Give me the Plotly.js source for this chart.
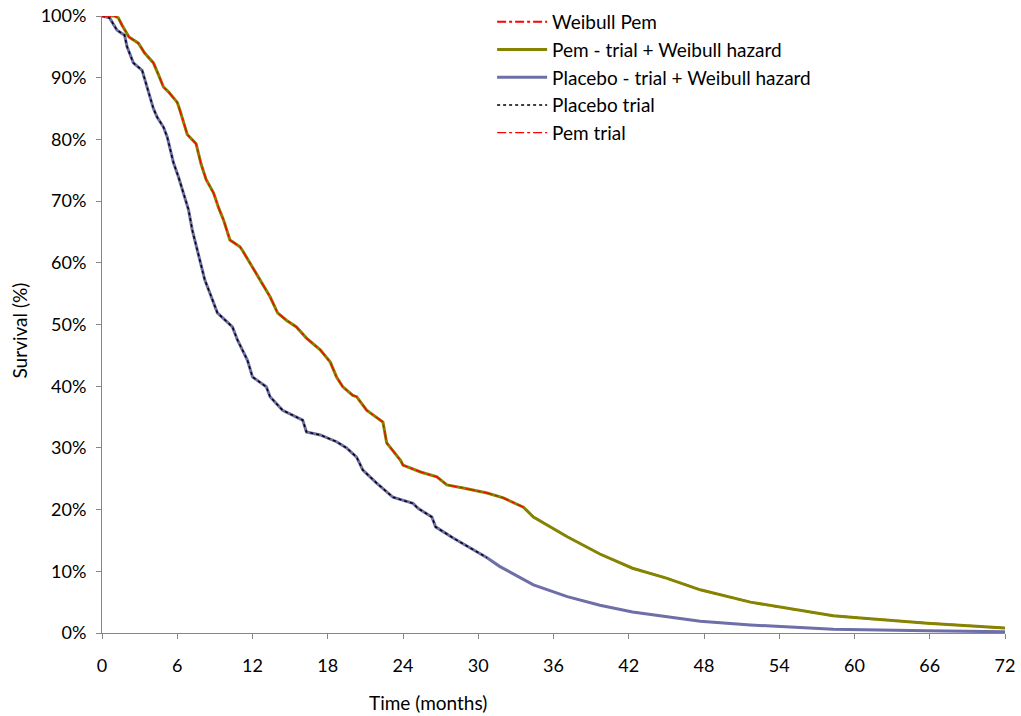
<!DOCTYPE html>
<html>
<head>
<meta charset="utf-8">
<script src="https://cdn.plot.ly/plotly-3.0.1.min.js"></script>
<style>html,body{margin:0;padding:0;background:#fff;}#chart{width:1021px;height:716px;}</style>
</head>
<body>
<div id="chart"></div>
<script>
// Pem - trial + Weibull hazard (months, survival %)
var pemTime = [0, 1.0, 1.3, 1.6, 2.15, 2.9, 3.4, 4.1, 4.5, 4.9, 5.3, 5.8, 6.0, 6.2, 6.6, 6.8, 7.5, 7.9, 8.3, 8.9, 9.3, 9.7, 10.2, 11.0, 11.2, 11.8, 12.6, 12.8, 13.4, 14.0, 14.7, 15.5, 16.3, 17.4, 18.2, 18.7, 19.2, 20.0, 20.3, 21.1, 21.9, 22.4, 22.7, 23.8, 24.0, 25.4, 26.7, 27.5, 28.8, 30.7, 32.0, 33.6, 34.4, 37.1, 39.7, 42.3, 45.0, 47.7, 51.7, 54.0, 58.3, 60.0, 65.8, 72.0];
var pemSurv = [100, 100, 99.7, 98.5, 96.6, 95.6, 94.0, 92.4, 90.5, 88.5, 87.7, 86.4, 86.0, 84.8, 82.0, 80.8, 79.3, 76.0, 73.5, 71.3, 68.9, 66.9, 63.7, 62.6, 62.0, 60.0, 57.2, 56.7, 54.5, 51.9, 50.7, 49.6, 47.8, 45.9, 43.9, 41.5, 39.9, 38.5, 38.3, 36.1, 35.0, 34.2, 30.8, 28.0, 27.2, 26.1, 25.3, 24.0, 23.5, 22.7, 21.9, 20.4, 18.8, 15.6, 12.8, 10.5, 8.9, 7.0, 5.0, 4.2, 2.8, 2.5, 1.6, 0.8];

// Placebo - trial + Weibull hazard (months, survival %)
var plaTime = [0, 0.6, 1.2, 1.8, 2.0, 2.5, 3.2, 3.6, 4.1, 4.4, 4.9, 5.2, 5.7, 6.1, 6.5, 6.9, 7.2, 7.6, 7.8, 8.2, 8.6, 9.2, 10.4, 10.8, 11.6, 12.0, 13.1, 13.4, 14.4, 16.0, 16.3, 17.4, 18.7, 19.5, 20.3, 20.8, 21.9, 23.2, 24.8, 25.2, 26.3, 26.6, 28.0, 30.7, 31.7, 34.4, 37.1, 39.7, 42.3, 45.0, 47.7, 51.7, 58.3, 65.8, 72.0];
var plaSurv = [100, 99.7, 97.7, 96.9, 95.0, 92.4, 91.2, 88.5, 85.0, 83.6, 82.0, 80.4, 76.2, 73.9, 71.3, 68.6, 65.3, 62.1, 60.5, 57.2, 55.1, 51.9, 49.6, 47.5, 44.2, 41.5, 39.9, 38.3, 36.1, 34.5, 32.6, 32.1, 31.0, 30.0, 28.5, 26.4, 24.3, 22.0, 21.0, 20.2, 18.8, 17.2, 15.4, 12.2, 10.8, 7.8, 5.9, 4.5, 3.4, 2.6, 1.9, 1.3, 0.6, 0.35, 0.2];

// Trial-only portions (observed follow-up)
var pemTrialTime = pemTime.slice(0, 52);
var pemTrialSurv = pemSurv.slice(0, 52);
var plaTrialTime = plaTime.slice(0, 44);
var plaTrialSurv = plaSurv.slice(0, 44);

// Weibull Pem (coincides with the extrapolated part)
var weibPemTime = pemTime.slice(51);
var weibPemSurv = pemSurv.slice(51);

var xTicks = [0, 6, 12, 18, 24, 30, 36, 42, 48, 54, 60, 66, 72];
var yTicks = [0, 10, 20, 30, 40, 50, 60, 70, 80, 90, 100];
var yTickText = yTicks.map(function(v){ return v + '%'; });

var names = ['Weibull Pem', 'Pem - trial + Weibull hazard', 'Placebo - trial + Weibull hazard', 'Placebo trial', 'Pem trial'];

var traces = [
  {x: weibPemTime, y: weibPemSurv, name: names[0], legendrank: 1, mode: 'lines',
   line: {color: '#FF0000', width: 2, dash: 'dashdot'}},
  {x: pemTime, y: pemSurv, name: names[1], legendrank: 2, mode: 'lines',
   line: {color: '#848400', width: 3}},
  {x: plaTime, y: plaSurv, name: names[2], legendrank: 3, mode: 'lines',
   line: {color: '#6E6EA8', width: 3}},
  {x: plaTrialTime, y: plaTrialSurv, name: names[3], legendrank: 4, mode: 'lines',
   line: {color: '#000000', width: 1.5, dash: 'dot'}},
  {x: pemTrialTime, y: pemTrialSurv, name: names[4], legendrank: 5, mode: 'lines',
   line: {color: '#FF0000', width: 1.3, dash: 'dashdot'}}
];

var fontFam = 'Lato, "Open Sans", sans-serif';

var layout = {
  width: 1021, height: 716,
  margin: {l: 102, r: 16, t: 16, b: 83, autoexpand: false},
  paper_bgcolor: '#ffffff', plot_bgcolor: '#ffffff',
  font: {family: fontFam, size: 18, color: '#000000'},
  showlegend: true,
  legend: {xref: 'container', yref: 'container', x: 0.482, y: 0.9958, xanchor: 'left', yanchor: 'top',
           bgcolor: 'rgba(0,0,0,0)', itemwidth: 50,
           font: {family: fontFam, size: 19, color: '#000'}, tracegroupgap: 0},
  xaxis: {range: [0, 72], tickvals: xTicks, ticktext: xTicks.map(String), showgrid: false, zeroline: false,
          showline: true, linecolor: '#868686', linewidth: 1, ticks: 'outside', ticklen: 5, tickcolor: '#868686',
          ticklabelstandoff: 11, automargin: false, tickfont: {family: fontFam, size: 18}},
  yaxis: {range: [0, 100], tickvals: yTicks, ticktext: yTickText, showgrid: false, zeroline: false,
          showline: true, linecolor: '#868686', linewidth: 1, ticks: 'outside', ticklen: 5, tickcolor: '#868686',
          ticklabelstandoff: 6, automargin: false, tickfont: {family: fontFam, size: 18}},
  annotations: [
    {text: 'Time (months)', xref: 'paper', yref: 'paper', x: (428 - 102) / 903, y: -0.113, xanchor: 'center', yanchor: 'middle',
     showarrow: false, font: {family: fontFam, size: 19}},
    {text: 'Survival (%)', xref: 'paper', yref: 'paper', x: -0.091, y: 0.49, xanchor: 'center', yanchor: 'middle',
     textangle: -90, showarrow: false, font: {family: fontFam, size: 19}}
  ]
};

Plotly.newPlot('chart', traces, layout, {displayModeBar: false, staticPlot: true});
</script>
</body>
</html>
